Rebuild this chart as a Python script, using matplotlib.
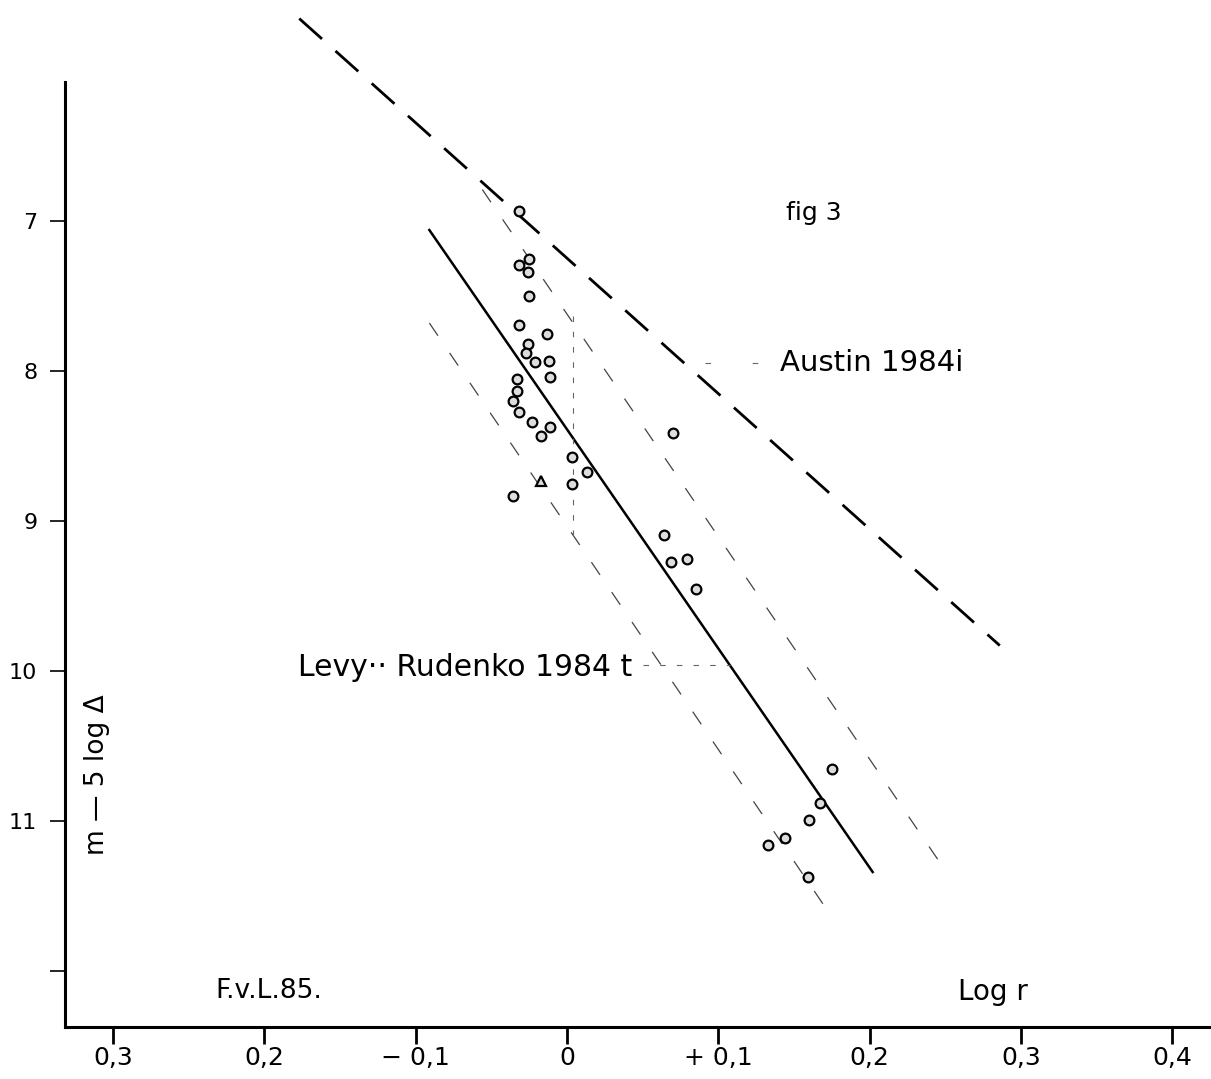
import numpy as np
import matplotlib.pyplot as plt

plt.rcParams['font.family'] = ['DejaVu Sans']
plt.rcParams['lines.scale_dashes'] = False

# comet observations: log r against m - 5 log Delta
log_r = [-0.032, -0.032, -0.025, -0.026, -0.025, -0.032, -0.013, -0.026,
         -0.027, -0.021, -0.012, -0.011, -0.033, -0.033, -0.036, -0.032,
         -0.023, -0.011, -0.017, 0.003, 0.013, 0.003, -0.036,
         0.064, 0.069, 0.079, 0.085, 0.070,
         0.175, 0.167, 0.160, 0.144, 0.133, 0.159]
mag = [6.93, 7.29, 7.25, 7.34, 7.50, 7.69, 7.75, 7.82,
       7.88, 7.94, 7.93, 8.04, 8.05, 8.13, 8.20, 8.27,
       8.34, 8.37, 8.43, 8.57, 8.67, 8.75, 8.83,
       9.09, 9.27, 9.25, 9.45, 8.41,
       10.65, 10.88, 10.99, 11.11, 11.16, 11.37]
tri_r = [-0.017]
tri_mag = [8.73]

# fitted lines
austin_x = [-0.177, 0.286]
austin_y = [5.65, 9.83]
levy_x = [-0.091, 0.202]
levy_y = [7.06, 11.34]
upper_x = [-0.056, 0.248]
upper_y = [6.79, 11.30]
lower_x = [-0.091, 0.173]
lower_y = [7.68, 11.61]
vert_x = [0.004, 0.004]
vert_y = [7.63, 9.16]

xticks = [-0.3, -0.2, -0.1, 0.0, 0.1, 0.2, 0.3, 0.4]
xlabels = ['0,3', '0,2', '\u2212 0,1', '0', '+ 0,1', '0,2', '0,3', '0,4']
yticks = [7, 8, 9, 10, 11, 12]
ylabels = ['7', '8', '9', '10', '11', '']

fig = plt.figure(figsize=(12.11, 10.79), dpi=100)
ax = fig.add_axes([0.0537, 0.0482, 0.9463, 0.8758])
ax.set_xlim(-0.3318, 0.4256)
ax.set_ylim(12.373, 6.073)

for s in ['top', 'right']:
    ax.spines[s].set_visible(False)
for s in ['left', 'bottom']:
    ax.spines[s].set_linewidth(2.2)

ax.set_xticks(xticks)
ax.set_xticklabels(xlabels)
ax.set_yticks(yticks)
ax.set_yticklabels(ylabels)
ax.tick_params(axis='x', direction='out', length=12, width=2, labelsize=18, pad=2)
ax.tick_params(axis='y', direction='out', length=11, width=1.2, labelsize=16, pad=9)

ax.plot(austin_x, austin_y, color='black', lw=2.0, dashes=(22, 13), clip_on=False)
ax.plot(levy_x, levy_y, color='black', lw=1.8)
ax.plot(upper_x, upper_y, color='#444444', lw=0.9, dashes=(11, 15))
ax.plot(lower_x, lower_y, color='#444444', lw=0.9, dashes=(11, 15))
ax.plot(vert_x, vert_y, color='#666666', lw=0.8, dashes=(4, 7))

# leaders to the labels
ax.plot([0.091, 0.134], [7.947, 7.947], color='#666666', lw=0.8, dashes=(4, 30))
ax.plot([0.050, 0.108], [9.96, 9.96], color='#666666', lw=0.8, dashes=(4, 8))

ax.plot(log_r, mag, 'o', ms=7, mfc='#dddddd', mec='black', mew=1.6)
ax.plot(tri_r, tri_mag, '^', ms=7, mfc='#dddddd', mec='black', mew=1.6)

ax.text(0.1408, 7.947, 'Austin 1984i', fontsize=21, ha='left', va='center')
ax.text(0.043, 9.975, 'Levy\u00b7\u00b7 Rudenko 1984 t', fontsize=21.5, ha='right', va='center')
ax.text(0.145, 6.947, 'fig 3', fontsize=18, ha='left', va='center')
ax.text(-0.2327, 12.18, 'F.v.L.85.', fontsize=19, ha='left', va='baseline')
ax.text(0.2584, 12.19, 'Log r', fontsize=20, ha='left', va='baseline')
ax.text(-0.3106, 10.69, 'm \u2014 5 log \u0394', fontsize=19, rotation=90,
        ha='center', va='center')

plt.savefig('out.png')
